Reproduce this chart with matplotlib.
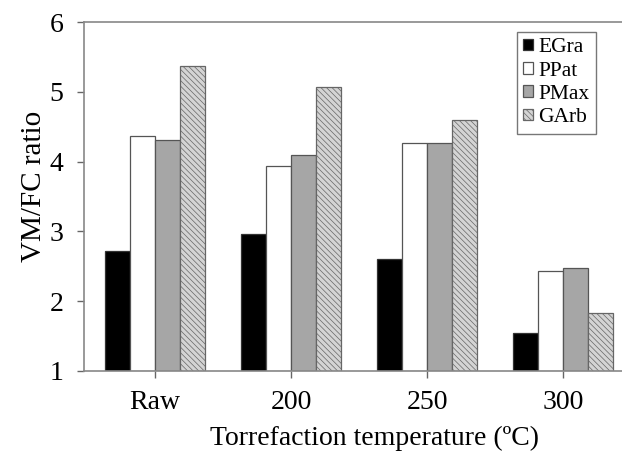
import matplotlib.pyplot as plt
import numpy as np

plt.rcParams['font.family'] = ['Liberation Serif', 'DejaVu Serif']
plt.rcParams['hatch.linewidth'] = 0.5

# VM/FC ratio per torrefaction temperature
categories = ['Raw', '200', '250', '300']
series = ['EGra', 'PPat', 'PMax', 'GArb']
egra = [2.72, 2.96, 2.61, 1.55]
ppat = [4.36, 3.94, 4.27, 2.43]
pmax = [4.31, 4.10, 4.27, 2.48]
garb = [5.37, 5.07, 4.60, 1.83]

fig = plt.figure(figsize=(6.22, 4.51), dpi=100)
ax = fig.add_axes([84/622, 80/451, 550/622, 349/451])

x = np.arange(len(categories))
w = 0.184
styles = [
    dict(color='black', edgecolor='#333333'),
    dict(color='white', edgecolor='#555555'),
    dict(color='#a6a6a6', edgecolor='#555555'),
    dict(color='#d4d4d4', edgecolor='#666666', hatch='\\\\\\\\\\\\'),
]
for i, (vals, name, st) in enumerate(zip([egra, ppat, pmax, garb], series, styles)):
    ax.bar(x + (i - 1.5) * w, np.array(vals) - 1, w, bottom=1, label=name,
           linewidth=0.9, **st)

ax.set_xlim(-0.522, 3.52)
ax.set_ylim(1, 6)
ax.set_yticks([1, 2, 3, 4, 5, 6])
ax.set_xticks(x)
ax.set_xticklabels(categories)
ax.tick_params(direction='out', colors='#666666', labelcolor='black',
               labelsize=20, length=5, width=1)
ax.tick_params(axis='x', pad=9)
ax.tick_params(axis='y', pad=10)
for s in ['left', 'bottom', 'top']:
    ax.spines[s].set_color('#888888')
    ax.spines[s].set_linewidth(1.2)
ax.spines['right'].set_visible(False)

ax.set_ylabel('VM/FC ratio', fontsize=21)
ax.yaxis.set_label_coords(-0.067, 0.53)
ax.set_xlabel('Torrefaction temperature (ºC)', fontsize=20)
ax.xaxis.set_label_coords(0.529, -0.158)

leg = ax.legend(loc='upper left', bbox_to_anchor=(433/550, 0.972), fontsize=15.5,
                frameon=True, fancybox=False, handlelength=0.45, handleheight=0.45,
                handletextpad=0.25, borderpad=0.3, borderaxespad=0,
                labelspacing=0.2)
leg.get_frame().set_edgecolor('#555555')
leg.get_frame().set_linewidth(1.0)

fig.savefig('out.png', dpi=100)
